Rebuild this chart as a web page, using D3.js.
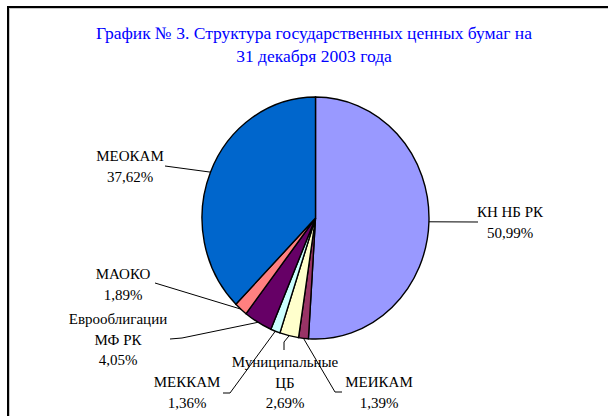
<!DOCTYPE html>
<html><head><meta charset="utf-8">
<script src="https://cdn.jsdelivr.net/npm/d3@7/dist/d3.min.js"></script>
<style>
html,body{margin:0;padding:0;background:#fff;}
svg{display:block;}
text{font-family:"Liberation Serif","Times New Roman",serif;}
</style></head>
<body>
<svg id="chart" width="608" height="416"></svg>
<script>
const titleLines = ["График № 3. Структура государственных ценных бумаг на", "31 декабря 2003 года"];
const categories = ["КН НБ РК", "МЕИКАМ", "Муниципальные ЦБ", "МЕККАМ", "Еврооблигации МФ РК", "МАОКО", "МЕОКАМ"];
const labelLines = [["КН НБ РК"], ["МЕИКАМ"], ["Муниципальные", "ЦБ"], ["МЕККАМ"], ["Еврооблигации", "МФ РК"], ["МАОКО"], ["МЕОКАМ"]];
const values = [50.99, 1.39, 2.69, 1.36, 4.05, 1.89, 37.62];
const valueLabels = ["50,99%", "1,39%", "2,69%", "1,36%", "4,05%", "1,89%", "37,62%"];
const colors = ["#9999ff", "#993366", "#ffffcc", "#ccffff", "#660066", "#ff8080", "#0066cc"];

// layout: label centre x, first baseline y, leader points from label side
const labelLayout = [
  {x: 510, y: 217, leader: [[478, 222]]},
  {x: 379, y: 387, leader: [[342, 392], [335, 392]]},
  {x: 285, y: 367, leader: [[284, 350], [284, 342]]},
  {x: 187, y: 387, leader: [[223, 393], [230, 393]]},
  {x: 118, y: 324, leader: [[170, 339], [182, 338]]},
  {x: 123, y: 279, leader: [[155, 283]]},
  {x: 130, y: 161, leader: [[165, 166]]}
];

const svg = d3.select("#chart");
const cx = 315.5, cy = 218, rx = 113.5, ry = 121;

// frame
svg.append("rect").attr("x", 9.5).attr("y", 8.5).attr("width", 620).attr("height", 430)
  .attr("fill", "none").attr("stroke", "#c8c8c8").attr("stroke-width", 1);
svg.append("rect").attr("x", 8).attr("y", 7).attr("width", 620).attr("height", 430)
  .attr("fill", "none").attr("stroke", "#000").attr("stroke-width", 2);

// title
svg.append("text").attr("x", 314).attr("y", 39).attr("text-anchor", "middle")
  .attr("fill", "#0000ff").attr("font-size", 17.5)
  .selectAll("tspan").data(titleLines).join("tspan")
  .attr("x", 314).attr("dy", (d, i) => i ? 23 : 0).text(d => d);

const pie = d3.pie().sort(null).value(d => d)(values);
const arc = d3.arc().innerRadius(0).outerRadius(rx);

const g = svg.append("g").attr("transform", `translate(${cx},${cy}) scale(1,${ry / rx})`);
g.selectAll("path").data(pie).join("path")
  .attr("d", arc)
  .attr("fill", (d, i) => colors[i])
  .attr("stroke", "#000").attr("stroke-width", 1.4)
  .attr("vector-effect", "non-scaling-stroke");

// leader lines
pie.forEach((d, i) => {
  const a = (d.startAngle + d.endAngle) / 2;
  const edge = [cx + rx * Math.sin(a), cy - ry * Math.cos(a)];
  const pts = labelLayout[i].leader.concat([edge]);
  svg.append("path").attr("d", d3.line()(pts))
    .attr("fill", "none").attr("stroke", "#000").attr("stroke-width", 1);
});

// labels
labelLayout.forEach((L, i) => {
  const lines = labelLines[i].concat([valueLabels[i]]);
  const t = svg.append("text").attr("x", L.x).attr("y", L.y)
    .attr("text-anchor", "middle").attr("font-size", 15).attr("fill", "#000");
  t.selectAll("tspan").data(lines).join("tspan")
    .attr("x", L.x).attr("dy", (d, j) => j ? 20.5 : 0).text(d => d);
});
</script>
</body></html>
